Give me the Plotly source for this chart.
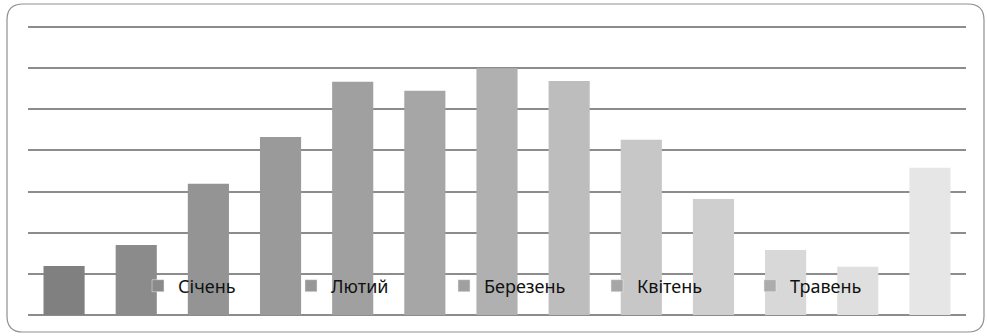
import plotly.graph_objects as go

categories = list(range(1, 14))
values = [1.19, 1.70, 3.19, 4.33, 5.67, 5.45, 6.0, 5.69, 4.26, 2.82, 1.58, 1.17, 3.58]
bar_colors = ["#808080", "#8b8b8b", "#949494", "#9a9a9a", "#a0a0a0", "#a6a6a6",
              "#b0b0b0", "#bdbdbd", "#c7c7c7", "#cfcfcf", "#d8d8d8", "#dfdfdf", "#e6e6e6"]
legend_names = ["Січень", "Лютий", "Березень", "Квітень", "Травень"]
legend_colors = ["#8a8a8a", "#979797", "#a0a0a0", "#a6a6a6", "#acacac"]

W, H = 987, 336
ml, mr, mt, mb = 28, 21, 25, 21
pw, ph = W - ml - mr, H - mt - mb
ytop = 7.05

fig = go.Figure()
fig.add_trace(go.Bar(x=categories, y=values, marker=dict(color=bar_colors, line=dict(width=0)),
                     showlegend=False, hoverinfo="skip"))
for n, c in zip(legend_names, legend_colors):
    fig.add_trace(go.Bar(x=[None], y=[None], name=n, marker_color=c, showlegend=True))

# rounded border in paper coords
def px2x(p):
    return (p - ml) / pw

def py2y(p):
    return (H - mb - p) / ph

x0, x1, y0, y1, r = 7, 984, 4, 332, 16
path = (f"M {px2x(x0 + r)},{py2y(y0)} L {px2x(x1 - r)},{py2y(y0)} "
        f"Q {px2x(x1)},{py2y(y0)} {px2x(x1)},{py2y(y0 + r)} "
        f"L {px2x(x1)},{py2y(y1 - r)} Q {px2x(x1)},{py2y(y1)} {px2x(x1 - r)},{py2y(y1)} "
        f"L {px2x(x0 + r)},{py2y(y1)} Q {px2x(x0)},{py2y(y1)} {px2x(x0)},{py2y(y1 - r)} "
        f"L {px2x(x0)},{py2y(y0 + r)} Q {px2x(x0)},{py2y(y0)} {px2x(x0 + r)},{py2y(y0)} Z")

fig.update_layout(
    width=W, height=H,
    margin=dict(l=ml, r=mr, t=mt, b=mb, pad=0),
    paper_bgcolor="white", plot_bgcolor="white",
    bargap=0.43,
    font=dict(family="Noto Sans, Open Sans, sans-serif", size=18, color="#111111"),
    xaxis=dict(range=[0.5, 13.5], showticklabels=False, showgrid=False, zeroline=False,
               showline=False, ticks=""),
    yaxis=dict(range=[0, ytop], dtick=1, tick0=0, showticklabels=False, showgrid=True,
               gridcolor="#8c8c8c", gridwidth=1.5, zeroline=True, zerolinecolor="#8c8c8c",
               zerolinewidth=1.5, showline=False, ticks=""),
    legend=dict(orientation="h", x=px2x(138), xanchor="left", y=py2y(286), yanchor="middle",
                bgcolor="rgba(0,0,0,0)", entrywidth=108, entrywidthmode="pixels",
                font=dict(size=18), itemwidth=30, tracegroupgap=0),
    shapes=[dict(type="path", xref="paper", yref="paper", path=path,
                 line=dict(color="#8f8f8f", width=1.2), fillcolor="rgba(0,0,0,0)", layer="above")],
)

fig.write_html("out.html")
